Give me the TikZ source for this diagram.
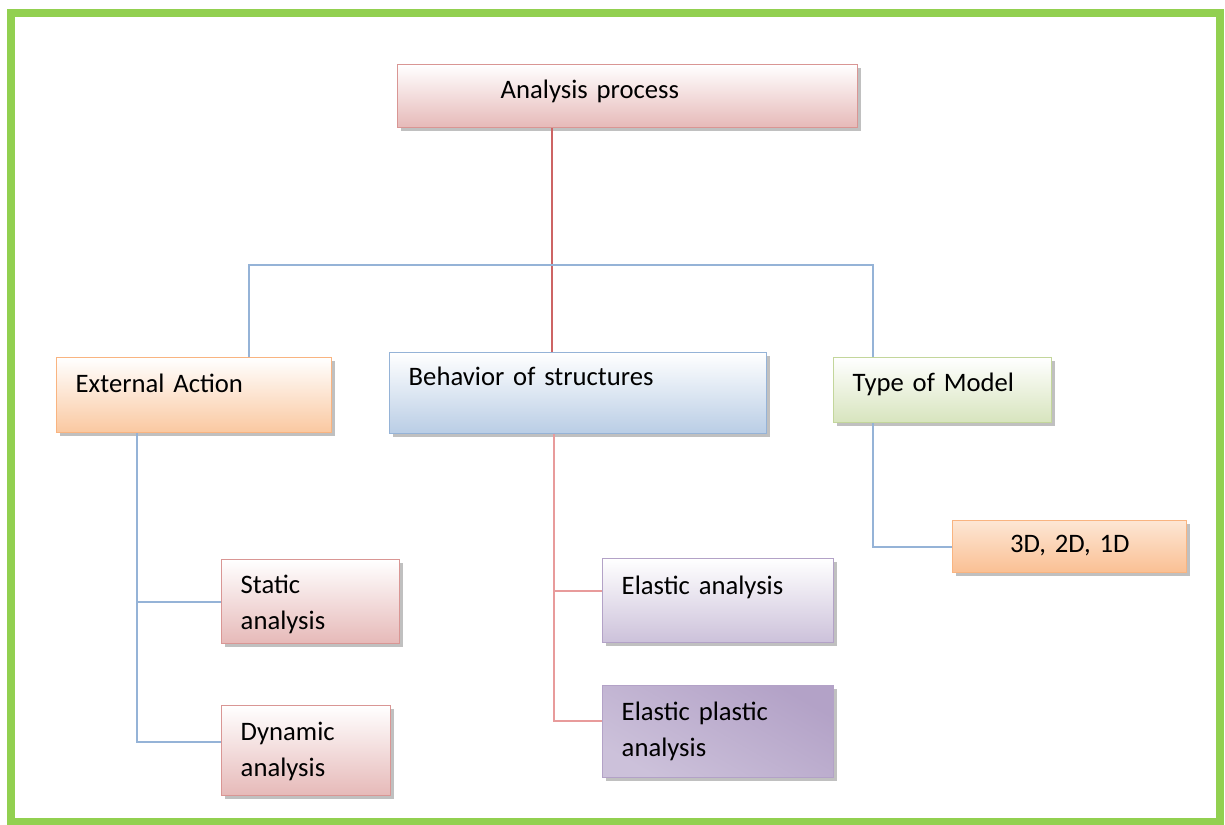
\documentclass[tikz,border=0pt]{standalone}
\usepackage{fontspec}
\setmainfont{Carlito}[WordSpace=0.7]
\usepackage{tikz}
\usetikzlibrary{calc, shadows}
\definecolor{framegreen}{RGB}{146, 208, 80}
\definecolor{rosefill}{RGB}{230, 185, 184}
\definecolor{roseline}{RGB}{217, 150, 148}
\definecolor{peachfill}{RGB}{250, 200, 160}
\definecolor{peachline}{RGB}{249, 180, 128}
\definecolor{skyfill}{RGB}{185, 205, 229}
\definecolor{skyline}{RGB}{149, 179, 215}
\definecolor{leaffill}{RGB}{215, 228, 189}
\definecolor{leafline}{RGB}{195, 214, 155}
\definecolor{plumfill}{RGB}{204, 193, 218}
\definecolor{plumdark}{RGB}{179, 162, 199}
\definecolor{plumlight}{RGB}{232, 226, 239}
\definecolor{trunkred}{RGB}{205, 100, 100}
\definecolor{branchpink}{RGB}{232, 155, 155}
\tikzset{
  font=\fontsize{20}{27}\selectfont,
  boxblock/.style={
    rectangle, anchor=north west, line width=1.1pt,
    inner ysep=0pt, inner xsep=14.25pt, align=left,
    drop shadow={shadow xshift=2.2pt, shadow yshift=-2.2pt, opacity=0.45, fill=black!55}
  },
  roseblock/.style={boxblock, draw=roseline, top color=white, bottom color=rosefill},
  peachblock/.style={boxblock, draw=peachline, top color=white, bottom color=peachfill},
  skyblock/.style={boxblock, draw=skyline, top color=white, bottom color=skyfill},
  leafblock/.style={boxblock, draw=leafline, top color=white, bottom color=leaffill},
  plumblock/.style={boxblock, draw=plumdark, top color=white, bottom color=plumfill},
  blueline/.style={draw=skyline, line width=1.2pt},
  redline/.style={draw=trunkred, line width=1.2pt},
  pinkline/.style={draw=branchpink, line width=1.2pt}
}
\begin{document}
\begin{tikzpicture}[x=0.75pt, y=-0.75pt]

  \useasboundingbox (0,0) rectangle (1225,825);

  % outer frame
  \draw[framegreen, line width=6pt] (11,13) rectangle (1220,822);

  % root
  \node[roseblock, inner xsep=77.25pt, text width=190.5pt,
        text height=25.5pt, text depth=21.75pt] (ana) at (397,64) {Analysis process};

  % second level
  \node[peachblock, text width=177.75pt, text height=26.25pt, text depth=30pt]
        (ext) at (56,357) {External Action};
  \node[skyblock, text width=254.25pt, text height=24.75pt, text depth=36pt]
        (beh) at (389,352) {Behavior of structures};
  \node[leafblock, text width=135pt, text height=25.5pt, text depth=23.25pt]
        (tom) at (833,357) {Type of Model};

  % leaves
  \node[roseblock, text width=105pt, text height=25.5pt, text depth=37.5pt]
        (sta) at (221,559) {Static\\analysis};
  \node[roseblock, text width=98.25pt, text height=26.25pt, text depth=41.25pt]
        (dyn) at (221,705) {Dynamic\\analysis};
  \node[plumblock, text width=144.75pt, text height=27pt, text depth=36pt]
        (ela) at (602,558) {Elastic analysis};
  \node[boxblock, draw=plumdark, top color=plumdark, middle color=plumlight, bottom color=plumfill,
        shading angle=-30, text width=144.75pt, text height=26.25pt, text depth=42.75pt]
        (epl) at (602,685) {Elastic plastic\\analysis};
  \node[boxblock, draw=peachline, top color=peachfill!45, bottom color=peachline!85, align=center,
        inner xsep=7.5pt, text width=160.5pt, text height=24pt, text depth=15pt]
        (dim) at (952,520) {3D, 2D, 1D};

  % connector coordinates
  \coordinate (trunk) at (552,265);
  \coordinate (busL) at (249,265);
  \coordinate (busR) at (873,265);
  \coordinate (extstem) at (137,0);
  \coordinate (behstem) at (554,0);
  \coordinate (dynB) at ($(dyn.west)+(0,-9)$);
  \coordinate (elaB) at ($(ela.west)+(0,-10)$);
  \coordinate (eplB) at ($(epl.west)+(0,-11)$);

  % connectors
  \draw[redline] (ana.south -| trunk) -- (beh.north -| trunk);
  \draw[blueline] (ext.north -| busL) -- (busL) -- (busR) -- (tom.north -| busR);
  \draw[blueline] (ext.south -| extstem) |- (dynB);
  \draw[blueline] (sta.west) -- (sta.west -| extstem);
  \draw[pinkline] (beh.south -| behstem) |- (eplB);
  \draw[pinkline] (elaB) -- (elaB -| behstem);
  \draw[blueline] (tom.south -| busR) |- (dim.west);

\end{tikzpicture}
\end{document}
